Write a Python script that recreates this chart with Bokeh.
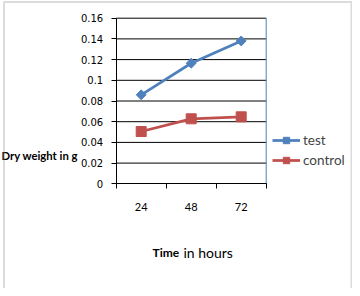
from bokeh.plotting import figure
from bokeh.models import (Range1d, FixedTicker, Label, Legend, LegendItem, BoxAnnotation)
from bokeh.embed import file_html
from bokeh.resources import INLINE

# ---- data ----
hours = ["24", "48", "72"]
test = [0.086, 0.1165, 0.138]
control = [0.0505, 0.0628, 0.0647]
y_ticks = [0, 0.02, 0.04, 0.06, 0.08, 0.1, 0.12, 0.14, 0.16]
y_tick_labels = ["0", "0.02", "0.04", "0.06", "0.08", "0.1", "0.12", "0.14", "0.16"]
series_names = ["test", "control"]
x_title_bold = "Time"
x_title_rest = "in hours"
y_title = "Dry weight in g"

BLUE = "#4F81BD"
RED = "#C0504D"

W, H = 352, 288
# pixel position of the plot area inside the canvas
PX_L, PX_R, PX_T, PX_B = 115.7, 265.7, 17.7, 183.3
NCAT = len(hours)
YMAX = max(y_ticks)

def px_x(px):   # canvas px -> data x
    return (px - PX_L) * NCAT / (PX_R - PX_L)
def px_y(py):   # canvas px (from top) -> data y
    return (PX_B - py) * YMAX / (PX_B - PX_T)

xpos = [i + 0.5 for i in range(NCAT)]

p = figure(width=W, height=H, output_backend="svg", toolbar_location=None,
           x_range=Range1d(px_x(0), px_x(W)), y_range=Range1d(px_y(H), px_y(0)),
           min_border=0)
p.title.visible = False
p.outline_line_color = None
p.background_fill_color = "white"
p.border_fill_color = "white"
p.xgrid.visible = False
p.ygrid.visible = False

# axes drawn at the plot-area edges
xa = p.xaxis[0]
xa.fixed_location = 0
xa.bounds = (0, NCAT)
xa.ticker = FixedTicker(ticks=xpos, minor_ticks=list(range(NCAT + 1)))
xa.major_label_overrides = {x: h for x, h in zip(xpos, hours)}
xa.major_tick_line_color = None
xa.major_tick_out = 5
xa.major_tick_in = 0
xa.minor_tick_line_color = "black"
xa.minor_tick_out = 5
xa.minor_tick_in = 0
xa.axis_line_color = "black"
xa.major_label_text_font = "Lato"
xa.major_label_text_font_size = "11px"
xa.major_label_text_color = "black"
xa.major_label_standoff = 14

ya = p.yaxis[0]
ya.fixed_location = 0
ya.bounds = (0, YMAX)
ya.ticker = FixedTicker(ticks=y_ticks, minor_ticks=[])
ya.major_label_overrides = {t: l for t, l in zip(y_ticks, y_tick_labels)}
ya.major_tick_out = 5
ya.major_tick_in = 0
ya.major_tick_line_color = "black"
ya.axis_line_color = "black"
ya.major_label_text_font = "DejaVu Sans"
ya.major_label_text_font_size = "10px"
ya.major_label_text_color = "black"
ya.major_label_standoff = 8

# horizontal gridlines across the plot area
grid_y = y_ticks[1:]
p.segment(x0=[0] * len(grid_y), x1=[NCAT] * len(grid_y), y0=grid_y, y1=grid_y,
          line_color="black", line_width=1)
# right edge of the plot area
p.segment(x0=[NCAT], x1=[NCAT], y0=[0], y1=[YMAX], line_color=BLUE, line_width=1)

# series
l1 = p.line(xpos, test, line_color=BLUE, line_width=2.75)
s1 = p.scatter(xpos, test, marker="square", angle=0.785398, size=7,
               fill_color=BLUE, line_color=BLUE)
l2 = p.line(xpos, control, line_color=RED, line_width=2.75)
s2 = p.scatter(xpos, control, marker="square", size=10, fill_color=RED, line_color=RED)

legend = Legend(items=[LegendItem(label=series_names[0], renderers=[l1, s1]),
                       LegendItem(label=series_names[1], renderers=[l2, s2])],
                location=(272, 120), orientation="vertical",
                padding=0, margin=0, spacing=4, glyph_width=28, glyph_height=16,
                label_height=16, label_standoff=3,
                label_text_font="Lato", label_text_font_size="13.5px",
                border_line_color=None, background_fill_alpha=0)
p.add_layout(legend, "center")

# axis titles
p.add_layout(Label(x=px_x(152), y=px_y(251.5), text=x_title_bold,
                   text_font="Lato", text_font_style="bold", text_font_size="12px",
                   text_baseline="middle", text_align="left", text_color="black"))
p.add_layout(Label(x=px_x(183), y=px_y(251.5), text=x_title_rest,
                   text_font="Lato", text_font_size="14px",
                   text_baseline="middle", text_align="left", text_color="black"))
p.add_layout(Label(x=px_x(77.5), y=px_y(155), text=y_title,
                   text_font="Lato", text_font_style="bold", text_font_size="11.3px",
                   text_baseline="alphabetic", text_align="right", text_color="black"))

# outer chart border
p.add_layout(BoxAnnotation(left=px_x(3.5), right=px_x(351), top=px_y(1.5), bottom=px_y(300),
                           fill_alpha=0, line_color="#888888", line_width=2))

open("out.html", "w").write(file_html(p, INLINE))
